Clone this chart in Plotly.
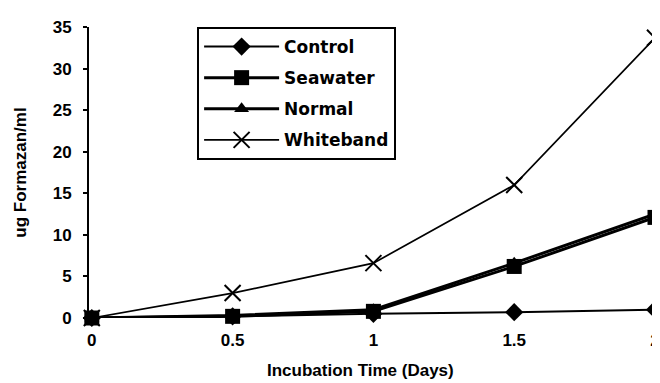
import plotly.graph_objects as go

days = [0, 0.5, 1, 1.5, 2]
control = [0, 0.2, 0.5, 0.7, 1.0]
seawater = [0, 0.2, 0.8, 6.2, 12.1]
normal = [0, 0.3, 1.0, 6.6, 12.5]
whiteband = [0, 3.0, 6.6, 16.0, 33.7]

x_ticks = [0, 0.5, 1, 1.5, 2]
x_tick_labels = ["0", "0.5", "1", "1.5", "2"]
y_ticks = [0, 5, 10, 15, 20, 25, 30, 35]

FONT = "Liberation Sans"
LFONT = "DejaVu Sans"

fig = go.Figure()
series = [
    ("Control", control, "diamond", 14, 2),
    ("Seawater", seawater, "square", 15, 3),
    ("Normal", normal, "triangle-up", 13, 3),
    ("Whiteband", whiteband, "x-thin-open", 16, 1.7),
]
for name, vals, sym, size, lw in series:
    mk = dict(symbol=sym, size=size, color="black")
    if sym == "x-thin-open":
        mk["line"] = dict(color="black", width=2)
    fig.add_trace(go.Scatter(
        x=days, y=vals, name=name, mode="lines+markers",
        line=dict(color="black", width=lw), marker=mk,
        cliponaxis=False, legendgroup=name,
    ))

fig.update_layout(
    width=660, height=383,
    margin=dict(l=81, r=13, t=19, b=73, autoexpand=False),
    paper_bgcolor="white", plot_bgcolor="white",
    font=dict(family=FONT, color="black", size=17, weight="bold"),
    showlegend=True,
    legend=dict(
        x=0.191, y=1.0, xanchor="left", yanchor="top",
        bordercolor="black", borderwidth=2, bgcolor="white",
        font=dict(family=LFONT, size=17, weight="bold"),
        itemwidth=75, tracegroupgap=6,
    ),
    xaxis=dict(
        range=[-0.01, 2.0], tickvals=x_ticks, ticktext=x_tick_labels,
        showline=False, showgrid=False, zeroline=False, ticks="",
        automargin=False, ticklabelstandoff=10,
        tickfont=dict(family=FONT, size=17, weight="bold"),
    ),
    yaxis=dict(
        range=[0, 35], tickvals=y_ticks,
        showline=True, linecolor="black", linewidth=2,
        ticks="outside", ticklen=4, tickwidth=2, tickcolor="black",
        showgrid=False, zeroline=False, automargin=False,
        ticklabelstandoff=8,
        tickfont=dict(family=FONT, size=17, weight="bold"),
        title=dict(text="ug Formazan/ml", standoff=22,
                   font=dict(family=FONT, size=17, weight="bold")),
    ),
    annotations=[dict(
        text="Incubation Time (Days)", xref="paper", yref="paper",
        x=0.479, y=-0.179, xanchor="center", yanchor="middle",
        showarrow=False, font=dict(family=FONT, size=17, weight="bold"),
    )],
)

fig.write_html("out.html")
